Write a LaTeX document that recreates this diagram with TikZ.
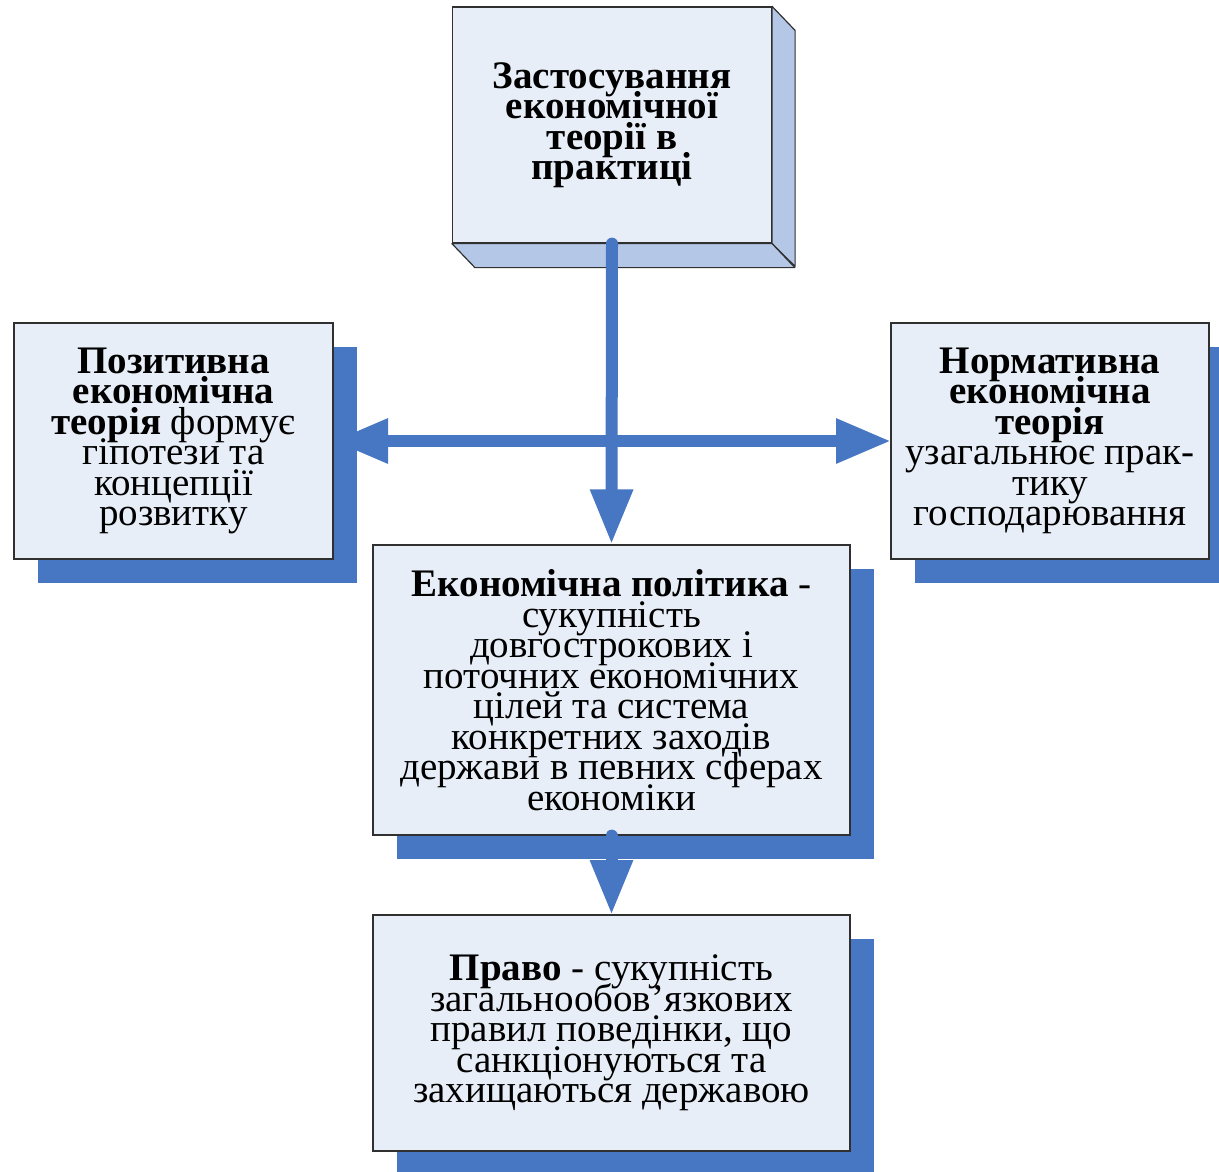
\documentclass[tikz,border=0pt]{standalone}
\usepackage{fontspec}
\setmainfont{Liberation Serif}
\usepackage{tikz}
\usetikzlibrary{arrows.meta, shadows}

\definecolor{boxface}{HTML}{E8EEF7}
\definecolor{boxline}{HTML}{303030}
\definecolor{sideblue}{HTML}{B4C7E7}
\definecolor{shadowblue}{HTML}{4776C2}
\newcommand{\diagfont}{\fontsize{39pt}{30.5pt}\selectfont\lineskiplimit=-40pt}

\begin{document}
\begin{tikzpicture}[x=1pt, y=-1pt,
        box/.style={rectangle, draw=boxline, line width=1.2pt, fill=boxface, align=center, font=\diagfont, inner sep=0pt, minimum width=319pt, minimum height=236pt},
        shadowed/.style={drop shadow={shadow xshift=24pt, shadow yshift=-24pt, fill=shadowblue, opacity=1}},
        side/.style={fill=sideblue, draw=boxline, line width=1.2pt, line join=round},
        arrow/.style={draw=shadowblue, line width=12pt, line cap=round, -{Triangle[length=55pt, width=40pt]}}
    ]
    \useasboundingbox (0,0) rectangle (1219,1171);

    % Top block - 3D box
    \node[box] (apply) at (612,125) {\textbf{Застосування}\\\textbf{економічної}\\\textbf{теорії в}\\\textbf{практиці}};
    \draw[side] (apply.north east) -- ++(23,24) -- ++(0,236) -- (apply.south east) -- cycle;
    \draw[side] (apply.south west) -- ++(23,24) -- ++(320,0) -- (apply.south east) -- cycle;

    % Middle block
    \node[box, shadowed, minimum width=477pt, minimum height=290pt] (policy) at (611.5,690) {\textbf{Економічна політика} -\\сукупність\\довгострокових і\\поточних економічних\\цілей та система\\конкретних заходів\\держави в певних сферах\\економіки};

    % Arrows
    \draw[arrow, {Triangle[length=55pt, width=42pt]}-{Triangle[length=55pt, width=42pt]}] (0,441) ++(333,0) coordinate (hl) (hl) -- (891,441) coordinate (hr);
    \draw[arrow] (apply.south) -- (policy.north);

    % Side blocks
    \node[box, shadowed] (positive) at (173.5,441) {\textbf{Позитивна}\\\textbf{економічна}\\\textbf{теорія} формує\\гіпотези та\\концепції\\розвитку};
    \node[box, shadowed, minimum width=318pt] (normative) at (1050,441) {\textbf{Нормативна}\\\textbf{економічна}\\\textbf{теорія}\\узагальнює прак-\\тику\\господарювання};

    % Bottom block
    \draw[arrow] (policy.south) -- (611.5,915) coordinate (lawtop);
    \node[box, shadowed, minimum width=477pt] (law) at (611.5,1033) {\textbf{Право} - сукупність\\загальнообов'язкових\\правил поведінки, що\\санкціонуються та\\захищаються державою};

\end{tikzpicture}
\end{document}
